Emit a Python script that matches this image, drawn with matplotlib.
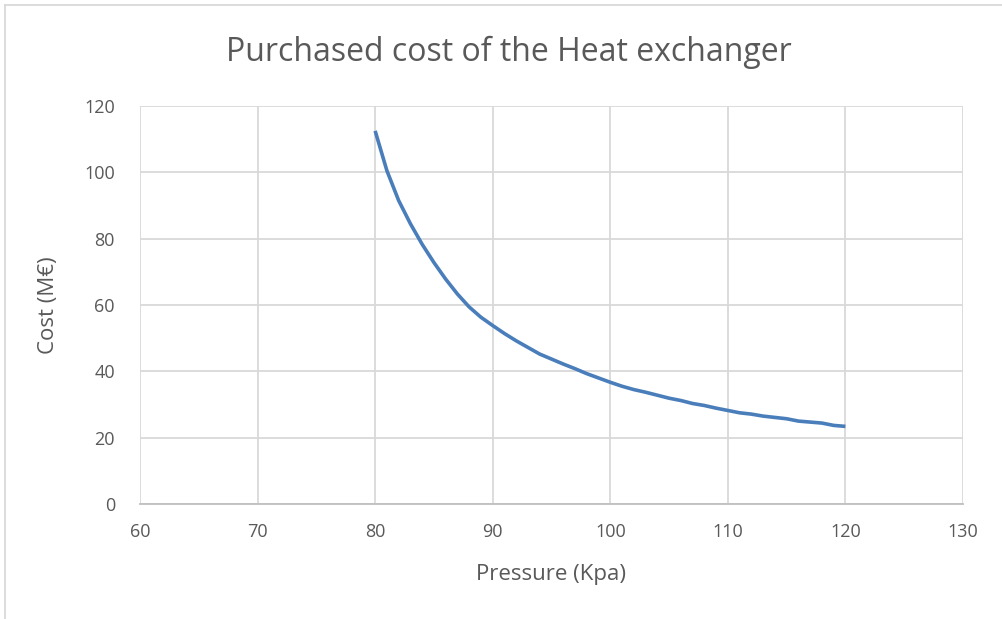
import matplotlib.pyplot as plt
from matplotlib.lines import Line2D

# data
pressure = list(range(80, 121))
cost = [112.5, 100.5, 91.5, 84.5, 78.3, 72.8, 67.8, 63.3, 59.4, 56.3,
        53.8, 51.4, 49.2, 47.2, 45.2, 43.7, 42.2, 40.8, 39.3, 38.0,
        36.7, 35.5, 34.5, 33.7, 32.8, 31.9, 31.2, 30.3, 29.7, 28.9,
        28.2, 27.5, 27.1, 26.5, 26.1, 25.7, 25.0, 24.7, 24.4, 23.7, 23.4]
x_ticks = [60, 70, 80, 90, 100, 110, 120, 130]
y_ticks = [0, 20, 40, 60, 80, 100, 120]

txt = '#595959'
grid = '#d9d9d9'
plt.rcParams['font.family'] = ['Open Sans', 'DejaVu Sans']

fig = plt.figure(figsize=(10.03, 6.19), dpi=100)
ax = fig.add_axes([140 / 1003, 1 - 504 / 619, (963 - 140) / 1003, (504 - 106) / 619])

ax.plot(pressure, cost, color='#4a7ebb', linewidth=2.6, solid_joinstyle='round',
        solid_capstyle='butt', zorder=3)

ax.set_xlim(60, 130)
ax.set_ylim(0, 120)
ax.set_xticks(x_ticks)
ax.set_yticks(y_ticks)
ax.grid(True, color=grid, linewidth=1.3)
ax.set_axisbelow(True)
for s in ['top', 'right', 'left']:
    ax.spines[s].set_visible(False)
ax.spines['bottom'].set_color('#bfbfbf')
ax.spines['bottom'].set_linewidth(1.3)
ax.tick_params(length=0, labelsize=13, labelcolor=txt)
ax.tick_params(axis='x', pad=14)
ax.tick_params(axis='y', pad=18)

ax.set_xlabel('Pressure (Kpa)', fontsize=16, color=txt, labelpad=16)
ax.set_ylabel('Cost (M€)', fontsize=16, color=txt, labelpad=18)
fig.text(509 / 1003, 1 - 52 / 619, 'Purchased cost of the Heat exchanger',
         fontsize=23, color=txt, ha='center', va='center')

# chart frame (left and top edges visible)
fig.add_artist(Line2D([5 / 1003, 5 / 1003], [0, 1 - 5 / 619], color=grid, linewidth=1.3))
fig.add_artist(Line2D([5 / 1003, 1], [1 - 5 / 619, 1 - 5 / 619], color=grid, linewidth=1.3))

fig.savefig('out.png', dpi=100)
